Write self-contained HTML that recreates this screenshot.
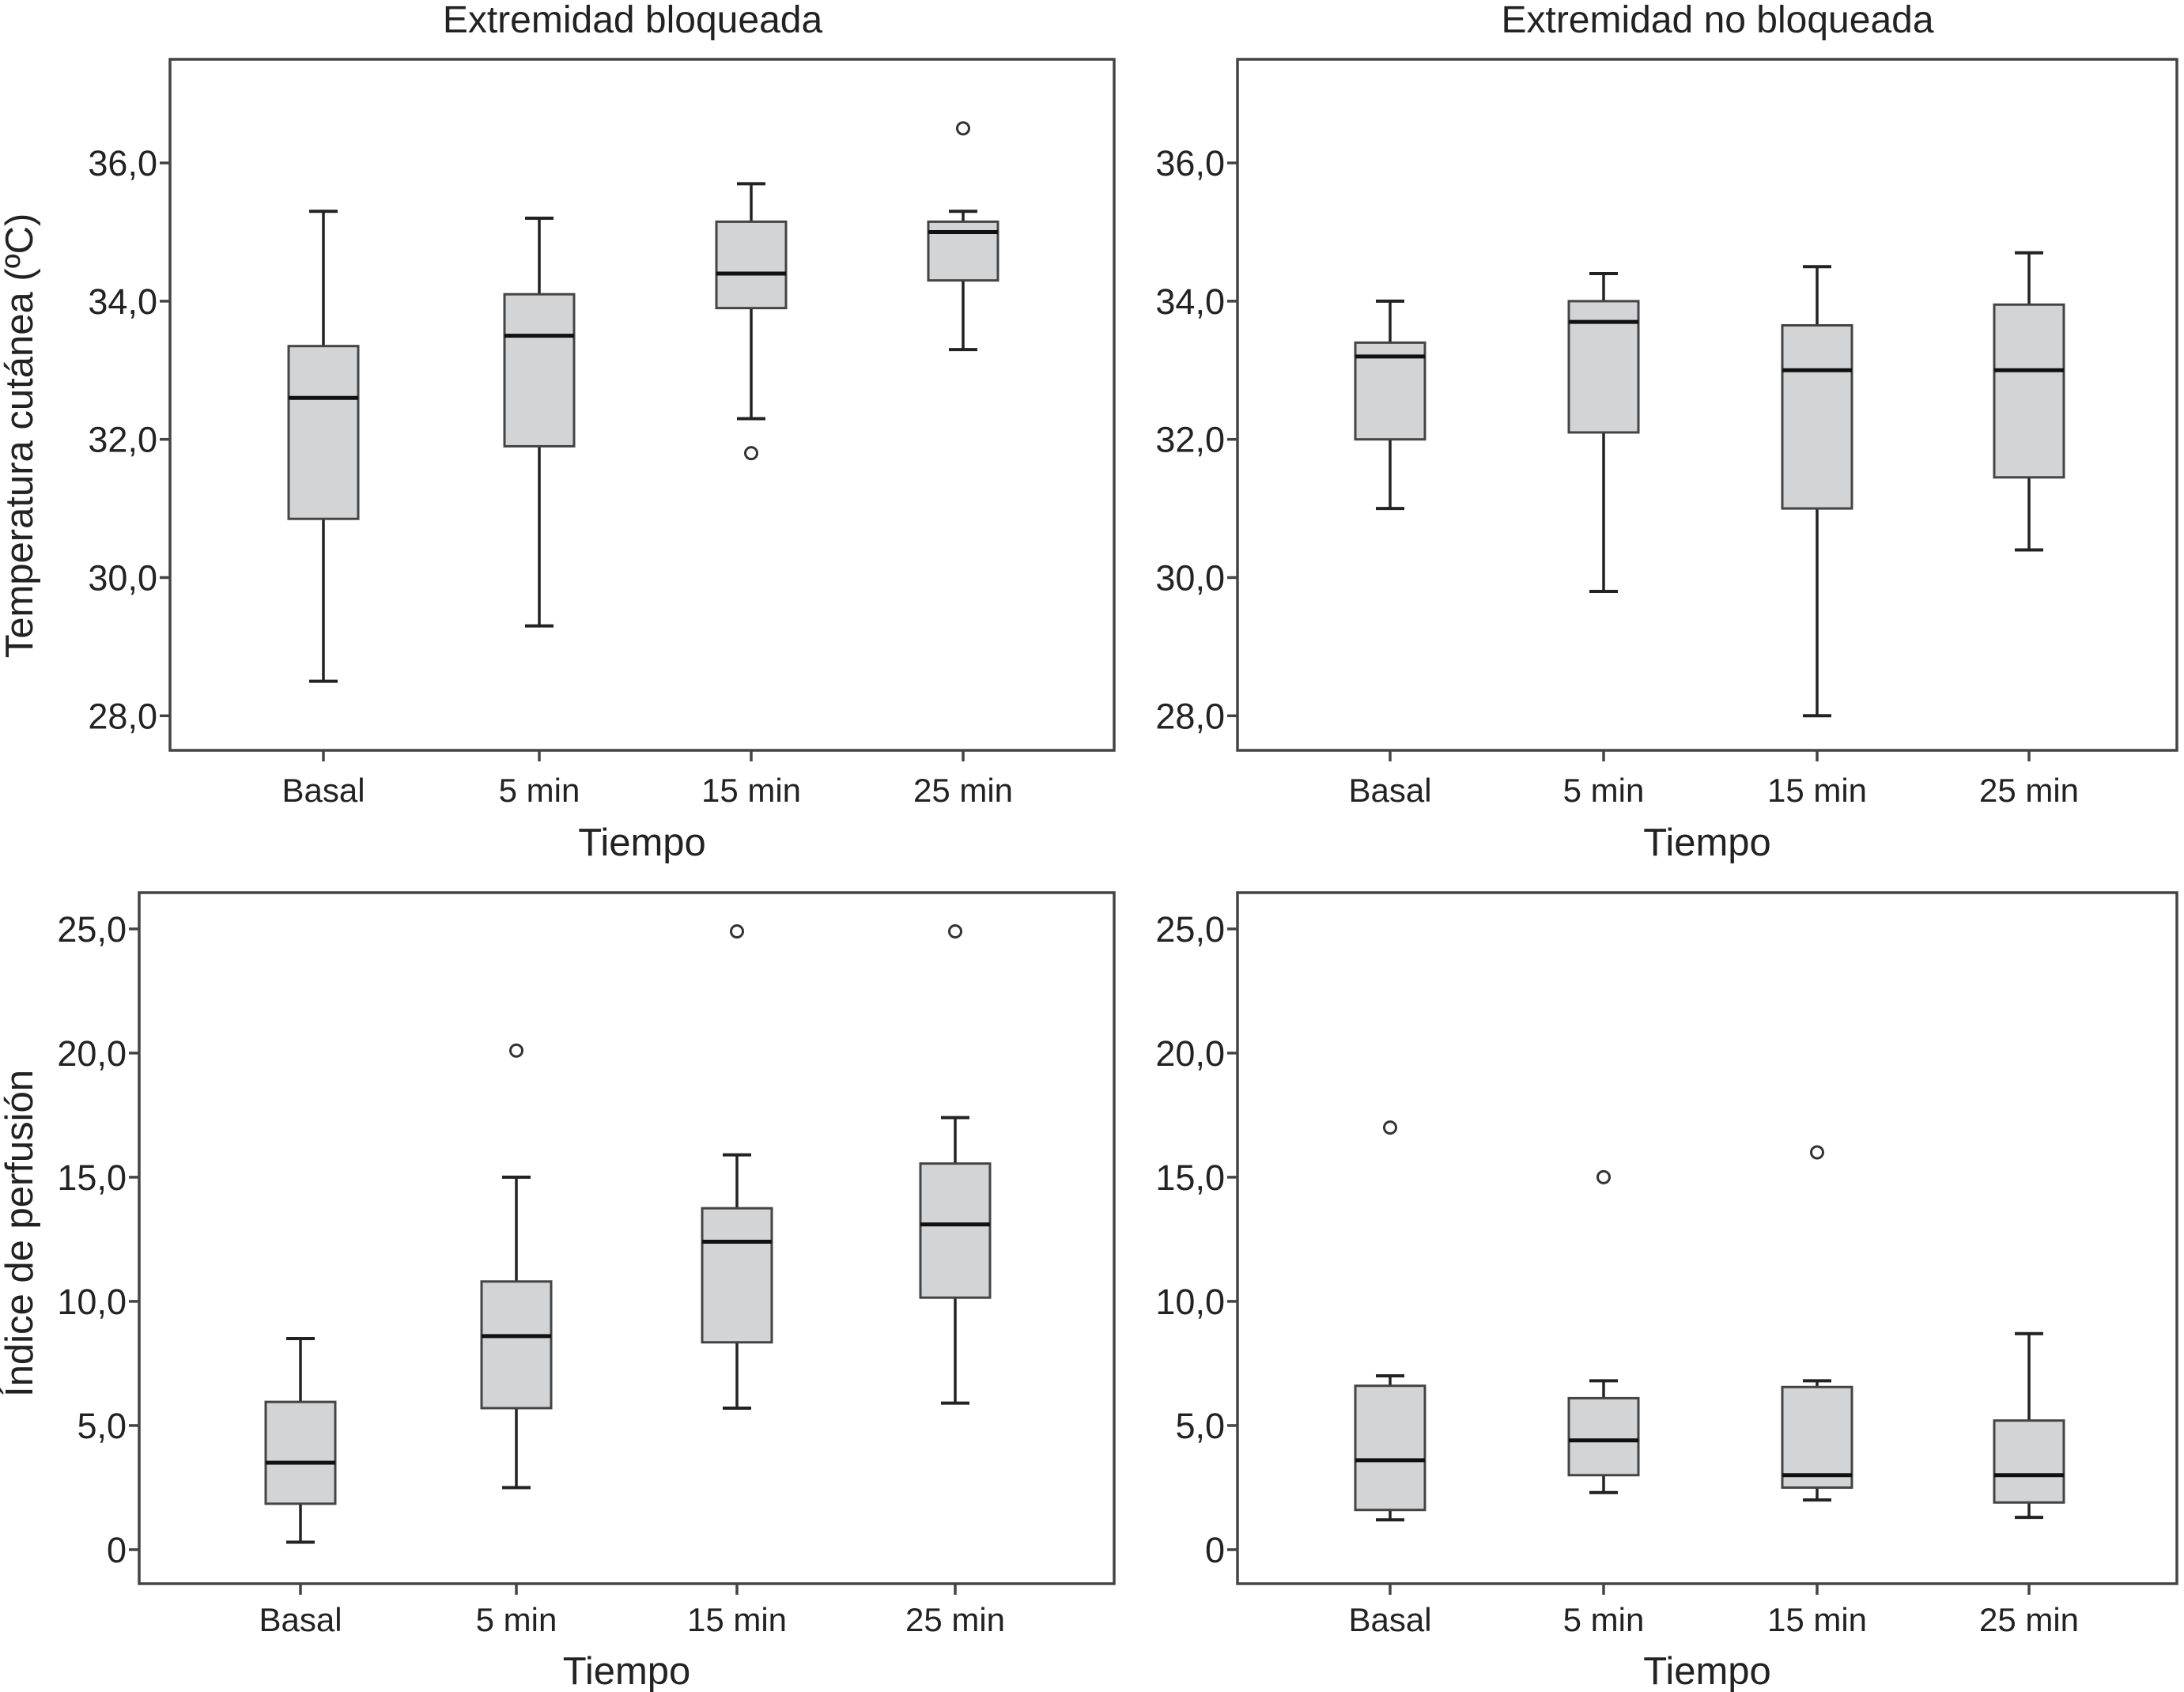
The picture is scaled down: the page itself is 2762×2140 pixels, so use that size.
<!DOCTYPE html>
<html><head><meta charset="utf-8">
<style>
html,body{margin:0;padding:0;background:#fff;}
svg{display:block;font-family:"Liberation Sans Narrow","Liberation Sans",sans-serif;}
</style></head>
<body>
<svg id="chart" width="2762" height="2140" viewBox="0 0 2762 2140" xmlns="http://www.w3.org/2000/svg">
<rect width="2762" height="2140" fill="#fff"/>
<text x="800" y="41" font-size="48" text-anchor="middle" fill="#222">Extremidad bloqueada</text>
<text x="2172" y="41" font-size="48" text-anchor="middle" fill="#222">Extremidad no bloqueada</text>
<text transform="translate(41,551) rotate(-90)" font-size="49" text-anchor="middle" fill="#222">Temperatura cutánea (ºC)</text>
<text transform="translate(41,1560) rotate(-90)" font-size="49" text-anchor="middle" fill="#222">Índice de perfusión</text>
</svg>
<script>
const categories = ["Basal","5 min","15 min","25 min"];
const tempTicks = [28,30,32,34,36];
const tempTickLabels = ["28,0","30,0","32,0","34,0","36,0"];
const perfTicks = [0,5,10,15,20,25];
const perfTickLabels = ["0","5,0","10,0","15,0","20,0","25,0"];
// [whiskerLow, q1, median, q3, whiskerHigh]
const tempBlocked = [[28.5,30.85,32.6,33.35,35.3],[29.3,31.9,33.5,34.1,35.2],[32.3,33.9,34.4,35.15,35.7],[33.3,34.3,35.0,35.15,35.3]];
const tempBlockedOutliers = [[],[],[31.8],[36.5]];
const tempFree = [[31.0,32.0,33.2,33.4,34.0],[29.8,32.1,33.7,34.0,34.4],[28.0,31.0,33.0,33.65,34.5],[30.4,31.45,33.0,33.95,34.7]];
const tempFreeOutliers = [[],[],[],[]];
const perfBlocked = [[0.3,1.85,3.5,5.95,8.5],[2.5,5.7,8.6,10.8,15.0],[5.7,8.35,12.4,13.75,15.9],[5.9,10.15,13.1,15.55,17.4]];
const perfBlockedOutliers = [[],[20.1],[24.9],[24.9]];
const perfFree = [[1.2,1.6,3.6,6.6,7.0],[2.3,3.0,4.4,6.1,6.8],[2.0,2.5,3.0,6.55,6.8],[1.3,1.9,3.0,5.2,8.7]];
const perfFreeOutliers = [[17.0],[15.0],[16.0],[]];

const NS="http://www.w3.org/2000/svg";
const svg=document.getElementById('chart');
function mk(tag,attrs,parent){const e=document.createElementNS(NS,tag);for(const k in attrs)e.setAttribute(k,attrs[k]);(parent||svg).appendChild(e);return e;}

function panel(name,x0,x1,y0,y1,dmin,dmax,catX,ticks,tickLabels,boxes,outliers,lblOff,titleOff){
  const g=mk('g',{});
  
  
  const y=v=>y1-(v-dmin)/(dmax-dmin)*(y1-y0);
  const fr=mk('rect',{x:x0,y:y0,width:x1-x0,height:y1-y0,fill:'#fff',stroke:'#444','stroke-width':3.5},g);
  
  
  ticks.forEach((t,i)=>{
    const ty=y(t);
    const tl=mk('line',{x1:x0-13,x2:x0,y1:ty,y2:ty,stroke:'#444','stroke-width':3.5},g);
    
    
    const tx=mk('text',{x:x0-16,y:ty+16,'font-size':45,'text-anchor':'end',fill:'#222'},g);
    tx.textContent=tickLabels[i];
    
    
  });
  const bw=88,cw=36;
  categories.forEach((c,i)=>{
    const cx=catX[i];
    const tk=mk('line',{x1:cx,x2:cx,y1:y1,y2:y1+14,stroke:'#444','stroke-width':3.5},g);
    
    
    const lb=mk('text',{x:cx,y:y1+lblOff,'font-size':42,'text-anchor':'middle',fill:'#222'},g);
    lb.textContent=c;
    
    
    const b=boxes[i];
    const bg=mk('g',{},g);
    
    
    mk('line',{x1:cx,x2:cx,y1:y(b[0]),y2:y(b[1]),stroke:'#222','stroke-width':3.5},bg);
    mk('line',{x1:cx,x2:cx,y1:y(b[3]),y2:y(b[4]),stroke:'#222','stroke-width':3.5},bg);
    mk('line',{x1:cx-cw/2,x2:cx+cw/2,y1:y(b[0]),y2:y(b[0]),stroke:'#222','stroke-width':4},bg);
    mk('line',{x1:cx-cw/2,x2:cx+cw/2,y1:y(b[4]),y2:y(b[4]),stroke:'#222','stroke-width':4},bg);
    mk('rect',{x:cx-bw/2,y:y(b[3]),width:bw,height:y(b[1])-y(b[3]),fill:'#d3d4d6',stroke:'#444','stroke-width':3},bg);
    mk('line',{x1:cx-bw/2,x2:cx+bw/2,y1:y(b[2]),y2:y(b[2]),stroke:'#111','stroke-width':5},bg);
    outliers[i].forEach(o=>{
      const oc=mk('circle',{cx:cx,cy:y(o),r:7.5,fill:'#fff',stroke:'#333','stroke-width':3},g);
      
      
    });
  });
  const xt=mk('text',{x:(x0+x1)/2,y:y1+titleOff,'font-size':49,'text-anchor':'middle',fill:'#222'},g);
  xt.textContent='Tiempo';
  
  
}
panel('panel-temp-blocked',215,1409,75,949,27.5,37.5,[409,682,950,1218],tempTicks,tempTickLabels,tempBlocked,tempBlockedOutliers,65,133);
panel('panel-temp-unblocked',1565,2753,75,949,27.5,37.5,[1758,2028,2298,2566],tempTicks,tempTickLabels,tempFree,tempFreeOutliers,65,133);
panel('panel-perf-blocked',176,1409,1129,2003,-1.37,26.46,[380,653,932,1208],perfTicks,perfTickLabels,perfBlocked,perfBlockedOutliers,60,127);
panel('panel-perf-unblocked',1565,2753,1129,2003,-1.37,26.46,[1758,2028,2298,2566],perfTicks,perfTickLabels,perfFree,perfFreeOutliers,60,127);
</script>
</body></html>
